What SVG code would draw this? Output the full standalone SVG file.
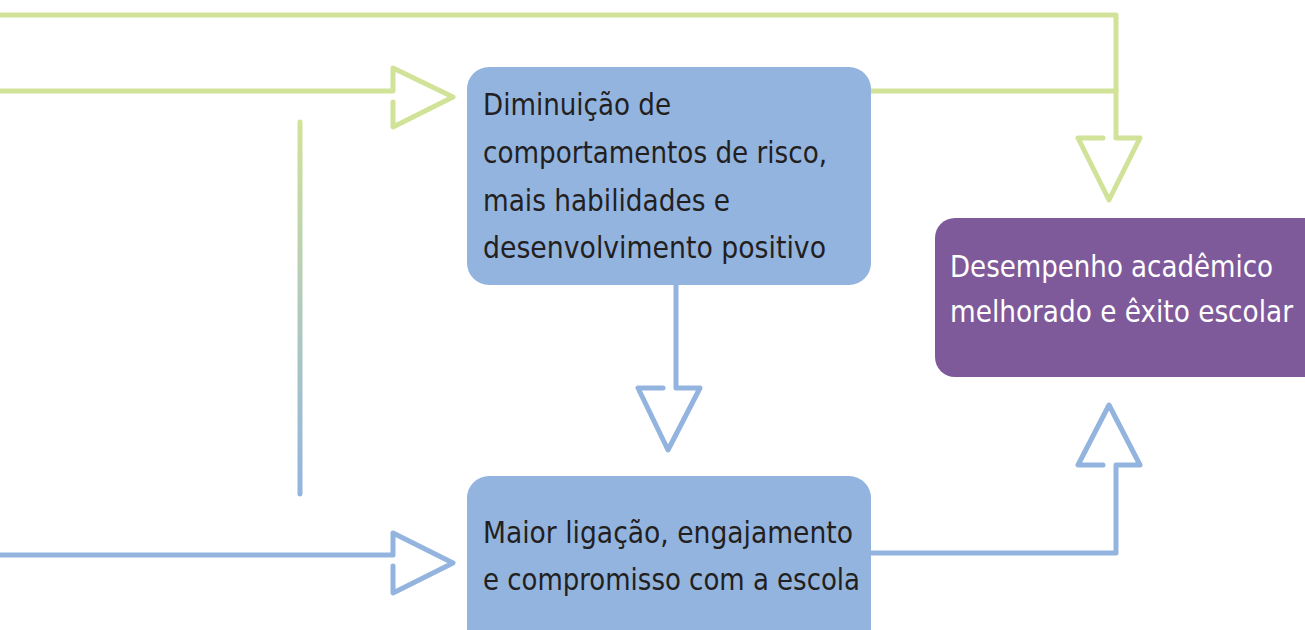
<svg xmlns="http://www.w3.org/2000/svg" width="1305" height="630" viewBox="0 0 1305 630">
<style>
.g{fill:none;stroke:#D1E299;stroke-width:5;stroke-linejoin:round;stroke-linecap:round}
.b{fill:none;stroke:#93B4DF;stroke-width:5;stroke-linejoin:round;stroke-linecap:round}
.box{fill:#93B4DF}
.pbox{fill:#7F5A9B}
.t{font-family:"DejaVu Sans Condensed","DejaVu Sans",sans-serif;font-size:31px;fill:#231F20}
.w{font-family:"DejaVu Sans Condensed","DejaVu Sans",sans-serif;font-size:31px;fill:#FFFFFF}
</style>
<defs>
<linearGradient id="vg" x1="0" y1="122" x2="0" y2="494" gradientUnits="userSpaceOnUse">
<stop offset="0" stop-color="#D1E299"/>
<stop offset="1" stop-color="#93B4DF"/>
</linearGradient>
</defs>
<g id="connectors">
<path class="g" d="M0,15 H1116 V138 H1140 L1109,200 L1078,138 H1103"/>
<path class="g" d="M871,91 H1116"/>
<path class="g" d="M0,91 H393 V68 L453,97 L393,127 V102"/>
<path class="b" d="M0,555 H393 V533 L453,563 L393,593 V566"/>
<path class="b" d="M676,285 V388 H700 L668,450 L638,388 H663"/>
<path class="b" d="M871,553 H1116 V465 H1140 L1109,405 L1078,465 H1103"/>
<line x1="300" y1="122" x2="300.01" y2="494" stroke="url(#vg)" stroke-width="5" stroke-linecap="round"/>
</g>
<g id="node1">
<rect class="box" x="467" y="67" width="404" height="218" rx="22"/>
<text class="t" x="483" y="115" textLength="188" lengthAdjust="spacingAndGlyphs">Diminuição de</text>
<text class="t" x="483" y="163" textLength="344" lengthAdjust="spacingAndGlyphs">comportamentos de risco,</text>
<text class="t" x="483" y="211" textLength="247" lengthAdjust="spacingAndGlyphs">mais habilidades e</text>
<text class="t" x="483" y="258" textLength="343" lengthAdjust="spacingAndGlyphs">desenvolvimento positivo</text>
</g>
<g id="node2">
<rect class="box" x="467" y="476" width="404" height="180" rx="22"/>
<text class="t" x="483" y="543" textLength="370" lengthAdjust="spacingAndGlyphs">Maior ligação, engajamento</text>
<text class="t" x="483" y="590" textLength="377" lengthAdjust="spacingAndGlyphs">e compromisso com a escola</text>
</g>
<g id="node3">
<rect class="pbox" x="935" y="218" width="395" height="159" rx="20"/>
<text class="w" x="950" y="277" textLength="323" lengthAdjust="spacingAndGlyphs">Desempenho acadêmico</text>
<text class="w" x="950" y="322" textLength="343" lengthAdjust="spacingAndGlyphs">melhorado e êxito escolar</text>
</g>
</svg>
